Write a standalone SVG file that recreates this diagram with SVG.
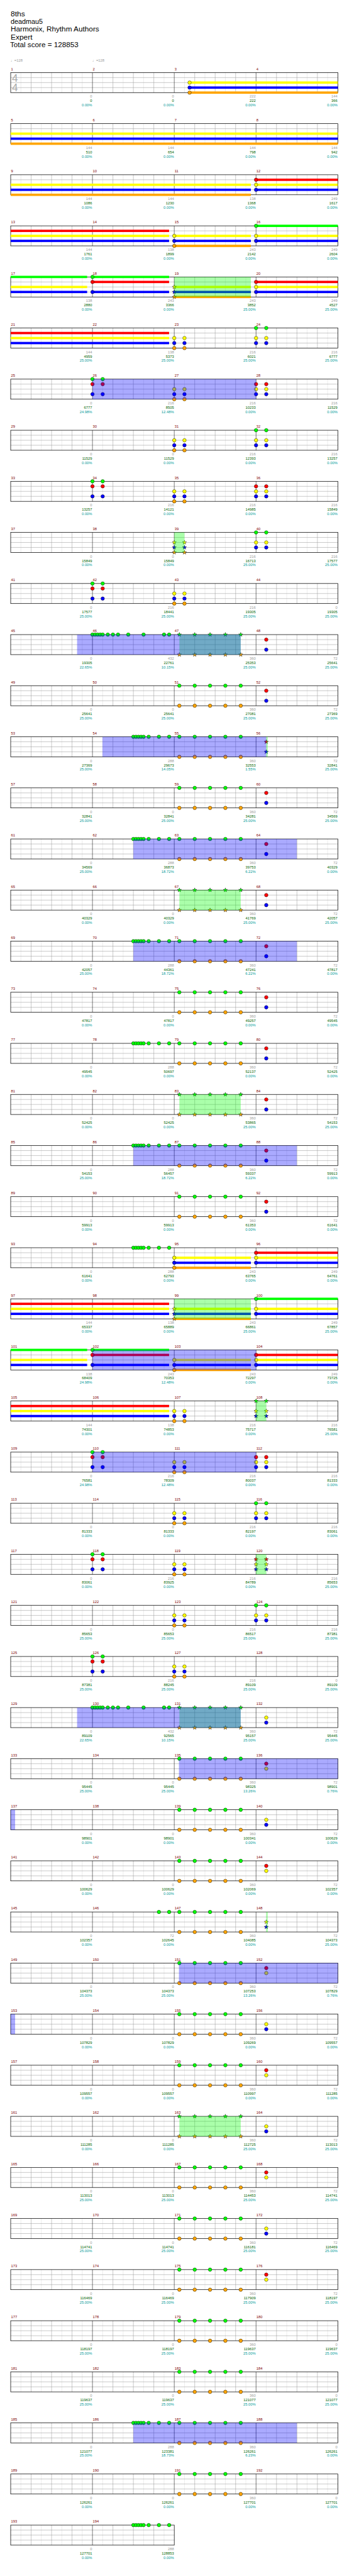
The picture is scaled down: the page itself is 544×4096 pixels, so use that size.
<svg xmlns="http://www.w3.org/2000/svg" width="544" height="4096" viewBox="0 0 544 4096">
<style>
.ti{font-size:20px;fill:#000}
.tp{font-size:11px;fill:#999}
.ts{font-size:32px;fill:#aaa}
.mn{font-size:11px;fill:#800000}
.sc{font-size:11px;fill:#999;text-anchor:end}
.cu{font-size:11px;fill:#006400;text-anchor:end}
.pc{font-size:11px;fill:#009999;text-anchor:end}
.sG{fill:#00ff00}.sR{fill:#ff0000}.sY{fill:#ffff00}.sB{fill:#0000ff}.sO{fill:#ffa500}
.sp{fill:#00ff00;fill-opacity:.333}
.ac{fill:#0000ff;fill-opacity:.333}
</style>
<defs>
<circle id="nt" r="5.3" stroke="#000" stroke-width="0.8"/>
<use id="G" href="#nt" fill="#00ff00"/>
<use id="R" href="#nt" fill="#ff0000"/>
<use id="Y" href="#nt" fill="#ffff00"/>
<use id="B" href="#nt" fill="#0000ff"/>
<use id="O" href="#nt" fill="#ffa500"/>
<path id="st" d="M0-6.5L1.53-2.1L6.18-2.01L2.47 0.8L3.82 5.26L0 2.6L-3.82 5.26L-2.47 0.8L-6.18-2.01L-1.53-2.1Z" stroke="#000" stroke-width="0.8"/>
<use id="SG" href="#st" fill="#00ff00"/>
<use id="SR" href="#st" fill="#ff0000"/>
<use id="SY" href="#st" fill="#ffff00"/>
<use id="SB" href="#st" fill="#0000ff"/>
<use id="SO" href="#st" fill="#ffa500"/>
<g id="grid4" fill="none">
<path stroke="#ddd" d="M62.6 0V60M123.9 0V60M185.1 0V60M246.4 0V60M307.6 0V60M368.9 0V60M430.1 0V60M491.4 0V60M552.6 0V60M613.9 0V60M675.1 0V60M736.4 0V60M797.6 0V60M858.9 0V60M920.1 0V60M981.4 0V60"/>
<path stroke="#999" d="M93.3 0V60M154.5 0V60M215.8 0V60M338.3 0V60M399.5 0V60M460.8 0V60M583.3 0V60M644.5 0V60M705.8 0V60M828.3 0V60M889.5 0V60M950.8 0V60M32 15H1012M32 30H1012M32 45H1012"/>
<path stroke="#000" d="M277 0V60M522 0V60M767 0V60"/>
<rect x="32" y="0" width="980" height="60" stroke="#000" stroke-width="1.4"/>
</g>
<g id="grid2" fill="none">
<path stroke="#ddd" d="M62.6 0V60M123.9 0V60M185.1 0V60M246.4 0V60M307.6 0V60M368.9 0V60M430.1 0V60M491.4 0V60"/>
<path stroke="#999" d="M93.3 0V60M154.5 0V60M215.8 0V60M338.3 0V60M399.5 0V60M460.8 0V60M32 15H522M32 30H522M32 45H522"/>
<path stroke="#000" d="M277 0V60"/>
<rect x="32" y="0" width="490" height="60" stroke="#000" stroke-width="1.4"/>
</g>
<g id="go5"><use href="#G" x="537.3"/><use href="#G" x="583.3"/><use href="#G" x="629.2"/><use href="#G" x="675.1"/><use href="#G" x="721.1"/><use href="#O" x="537.3" y="60"/><use href="#O" x="583.3" y="60"/><use href="#O" x="629.2" y="60"/><use href="#O" x="675.1" y="60"/><use href="#O" x="721.1" y="60"/></g>
<g id="go5s"><use href="#SG" x="537.3"/><use href="#SG" x="583.3"/><use href="#SG" x="629.2"/><use href="#SG" x="675.1"/><use href="#SG" x="721.1"/><use href="#SO" x="537.3" y="60"/><use href="#SO" x="583.3" y="60"/><use href="#SO" x="629.2" y="60"/><use href="#SO" x="675.1" y="60"/><use href="#SO" x="721.1" y="60"/></g>
<g id="runA"><use href="#G" x="399.5"/><use href="#G" x="407.2"/><use href="#G" x="414.8"/><use href="#G" x="422.5"/><use href="#G" x="430.1"/><use href="#G" x="445.4"/><use href="#G" x="476.1"/><use href="#G" x="506.7"/></g>
<g id="runB"><use href="#G" x="277"/><use href="#G" x="284.7"/><use href="#G" x="292.3"/><use href="#G" x="300"/><use href="#G" x="307.6"/><use href="#G" x="322.9"/><use href="#G" x="338.3"/><use href="#G" x="353.6"/><use href="#G" x="384.2"/><use href="#G" x="430.1"/><use href="#G" x="491.4"/><use href="#G" x="506.7"/></g>
<g id="grb2"><use href="#G" x="277"/><use href="#R" x="277" y="15"/><use href="#B" x="277" y="45"/><use href="#G" x="307.6"/><use href="#R" x="307.6" y="15"/><use href="#B" x="307.6" y="45"/></g>
<g id="ybo2"><use href="#Y" x="522" y="30"/><use href="#B" x="522" y="45"/><use href="#O" x="522" y="60"/><use href="#Y" x="552.6" y="30"/><use href="#B" x="552.6" y="45"/><use href="#O" x="552.6" y="60"/></g>
<g id="gyb2"><use href="#G" x="767"/><use href="#Y" x="767" y="30"/><use href="#B" x="767" y="45"/><use href="#G" x="797.6"/><use href="#Y" x="797.6" y="30"/><use href="#B" x="797.6" y="45"/></g>
<g id="ryb2"><use href="#R" x="767" y="15"/><use href="#Y" x="767" y="30"/><use href="#B" x="767" y="45"/><use href="#R" x="797.6" y="15"/><use href="#Y" x="797.6" y="30"/><use href="#B" x="797.6" y="45"/></g>
<g id="rb"><use href="#R" x="797.6" y="15"/><use href="#B" x="797.6" y="45"/></g>
<g id="yb"><use href="#Y" x="797.6" y="30"/><use href="#B" x="797.6" y="45"/></g>
<g id="ry"><use href="#R" x="797.6" y="15"/><use href="#Y" x="797.6" y="30"/></g>
</defs>
<rect width="544" height="4096" fill="#fff"/>
<g transform="scale(0.531)" font-family="Liberation Sans, Arial, sans-serif">
<g id="title">
<text class="ti" x="32" y="49" textLength="43" lengthAdjust="spacingAndGlyphs">8ths</text>
<text class="ti" x="32" y="72" textLength="96" lengthAdjust="spacingAndGlyphs">deadmau5</text>
<text class="ti" x="32" y="95" textLength="265" lengthAdjust="spacingAndGlyphs">Harmonix, Rhythm Authors</text>
<text class="ti" x="32" y="118" textLength="65" lengthAdjust="spacingAndGlyphs">Expert</text>
<text class="ti" x="30" y="141" textLength="205" lengthAdjust="spacingAndGlyphs">Total score = 128853</text>
</g>

<g id="row1" transform="translate(0,217.3)">
<use href="#grid4"/>
<text class="ts" x="36" y="27.7">4</text><text class="ts" x="36" y="56">4</text>
<text class="tp" x="32" y="-33">♩=128</text><text class="tp" x="277" y="-33">♩=128</text>
<rect class="sY" x="567.9" y="26.5" width="444.1" height="7"/><rect class="sB" x="567.9" y="41.5" width="444.1" height="7"/><rect class="sO" x="567.9" y="56.5" width="444.1" height="7"/>
<use href="#Y" x="567.9" y="30"/><use href="#B" x="567.9" y="45"/><use href="#O" x="567.9" y="60"/>
<text class="mn" y="-7"><tspan x="33">1</tspan><tspan x="278">2</tspan><tspan x="523">3</tspan><tspan x="768">4</tspan></text>
<text class="sc" y="75.5"><tspan x="276">0</tspan><tspan x="521">0</tspan><tspan x="766">222</tspan><tspan x="1011">144</tspan></text>
<text class="cu" y="88.5"><tspan x="276">0</tspan><tspan x="521">0</tspan><tspan x="766">222</tspan><tspan x="1011">366</tspan></text>
<text class="pc" y="101.5"><tspan x="276">0.00%</tspan><tspan x="521">0.00%</tspan><tspan x="766">0.00%</tspan><tspan x="1011">0.00%</tspan></text>
</g>

<g id="row2" transform="translate(0,370.3)">
<use href="#grid4"/>
<rect class="sY" x="32" y="26.5" width="980" height="7"/><rect class="sB" x="32" y="41.5" width="980" height="7"/><rect class="sO" x="32" y="56.5" width="980" height="7"/>
<text class="mn" y="-7"><tspan x="33">5</tspan><tspan x="278">6</tspan><tspan x="523">7</tspan><tspan x="768">8</tspan></text>
<text class="sc" y="75.5"><tspan x="276">144</tspan><tspan x="521">144</tspan><tspan x="766">144</tspan><tspan x="1011">144</tspan></text>
<text class="cu" y="88.5"><tspan x="276">510</tspan><tspan x="521">654</tspan><tspan x="766">798</tspan><tspan x="1011">942</tspan></text>
<text class="pc" y="101.5"><tspan x="276">0.00%</tspan><tspan x="521">0.00%</tspan><tspan x="766">0.00%</tspan><tspan x="1011">0.00%</tspan></text>
</g>

<g id="row3" transform="translate(0,523.3)">
<use href="#grid4"/>
<rect class="sY" x="32" y="26.5" width="719.5" height="7"/><rect class="sB" x="32" y="41.5" width="719.5" height="7"/><rect class="sO" x="32" y="56.5" width="719.5" height="7"/>
<rect class="sR" x="767" y="11.5" width="245" height="7"/><rect class="sY" x="767" y="26.5" width="245" height="7"/><rect class="sB" x="767" y="41.5" width="245" height="7"/>
<use href="#R" x="767" y="15"/><use href="#Y" x="767" y="30"/><use href="#B" x="767" y="45"/>
<text class="mn" y="-7"><tspan x="33">9</tspan><tspan x="278">10</tspan><tspan x="523">11</tspan><tspan x="768">12</tspan></text>
<text class="sc" y="75.5"><tspan x="276">144</tspan><tspan x="521">144</tspan><tspan x="766">138</tspan><tspan x="1011">249</tspan></text>
<text class="cu" y="88.5"><tspan x="276">1086</tspan><tspan x="521">1230</tspan><tspan x="766">1368</tspan><tspan x="1011">1617</tspan></text>
<text class="pc" y="101.5"><tspan x="276">0.00%</tspan><tspan x="521">0.00%</tspan><tspan x="766">0.00%</tspan><tspan x="1011">0.00%</tspan></text>
</g>

<g id="row4" transform="translate(0,676.3)">
<use href="#grid4"/>
<rect class="sR" x="32" y="11.5" width="474.5" height="7"/><rect class="sY" x="32" y="26.5" width="474.5" height="7"/><rect class="sB" x="32" y="41.5" width="474.5" height="7"/>
<rect class="sY" x="522" y="26.5" width="229.5" height="7"/><rect class="sB" x="522" y="41.5" width="229.5" height="7"/><rect class="sO" x="522" y="56.5" width="229.5" height="7"/>
<rect class="sG" x="767" y="-3.5" width="245" height="7"/><rect class="sY" x="767" y="26.5" width="245" height="7"/><rect class="sB" x="767" y="41.5" width="245" height="7"/>
<use href="#Y" x="522" y="30"/><use href="#B" x="522" y="45"/><use href="#O" x="522" y="60"/>
<use href="#G" x="767"/><use href="#Y" x="767" y="30"/><use href="#B" x="767" y="45"/>
<text class="mn" y="-7"><tspan x="33">13</tspan><tspan x="278">14</tspan><tspan x="523">15</tspan><tspan x="768">16</tspan></text>
<text class="sc" y="75.5"><tspan x="276">144</tspan><tspan x="521">138</tspan><tspan x="766">243</tspan><tspan x="1011">249</tspan></text>
<text class="cu" y="88.5"><tspan x="276">1761</tspan><tspan x="521">1899</tspan><tspan x="766">2142</tspan><tspan x="1011">2604</tspan></text>
<text class="pc" y="101.5"><tspan x="276">0.00%</tspan><tspan x="521">0.00%</tspan><tspan x="766">0.00%</tspan><tspan x="1011">0.00%</tspan></text>
</g>

<g id="row5" transform="translate(0,829.3)">
<use href="#grid4"/>
<rect class="sG" x="32" y="-3.5" width="229" height="7"/><rect class="sY" x="32" y="26.5" width="229" height="7"/><rect class="sB" x="32" y="41.5" width="229" height="7"/>
<rect class="sG" x="277" y="-3.5" width="229.5" height="7"/><rect class="sR" x="277" y="11.5" width="229.5" height="7"/><rect class="sB" x="277" y="41.5" width="229.5" height="7"/>
<rect class="sY" x="522" y="26.5" width="229.5" height="7"/><rect class="sB" x="522" y="41.5" width="229.5" height="7"/><rect class="sO" x="522" y="56.5" width="229.5" height="7"/>
<rect class="sR" x="767" y="11.5" width="245" height="7"/><rect class="sY" x="767" y="26.5" width="245" height="7"/><rect class="sB" x="767" y="41.5" width="245" height="7"/>
<use href="#G" x="277"/><use href="#R" x="277" y="15"/><use href="#B" x="277" y="45"/>
<use href="#SY" x="522" y="30"/><use href="#SB" x="522" y="45"/><use href="#SO" x="522" y="60"/>
<use href="#R" x="767" y="15"/><use href="#Y" x="767" y="30"/><use href="#B" x="767" y="45"/>
<rect class="sp" x="522" y="0" width="229.5" height="60"/>
<text class="mn" y="-7"><tspan x="33">17</tspan><tspan x="278">18</tspan><tspan x="523">19</tspan><tspan x="768">20</tspan></text>
<text class="sc" y="75.5"><tspan x="276">138</tspan><tspan x="521">243</tspan><tspan x="766">243</tspan><tspan x="1011">249</tspan></text>
<text class="cu" y="88.5"><tspan x="276">2880</tspan><tspan x="521">3366</tspan><tspan x="766">3852</tspan><tspan x="1011">4527</tspan></text>
<text class="pc" y="101.5"><tspan x="276">0.00%</tspan><tspan x="521">0.00%</tspan><tspan x="766">25.00%</tspan><tspan x="1011">25.00%</tspan></text>
</g>

<g id="row6" transform="translate(0,982.3)">
<use href="#grid4"/>
<rect class="sR" x="32" y="11.5" width="474.5" height="7"/><rect class="sY" x="32" y="26.5" width="474.5" height="7"/><rect class="sB" x="32" y="41.5" width="474.5" height="7"/>
<use href="#ybo2"/><use href="#gyb2"/>
<text class="mn" y="-7"><tspan x="33">21</tspan><tspan x="278">22</tspan><tspan x="523">23</tspan><tspan x="768">24</tspan></text>
<text class="sc" y="75.5"><tspan x="276">144</tspan><tspan x="521">138</tspan><tspan x="766">216</tspan><tspan x="1011">216</tspan></text>
<text class="cu" y="88.5"><tspan x="276">4959</tspan><tspan x="521">5373</tspan><tspan x="766">6021</tspan><tspan x="1011">6777</tspan></text>
<text class="pc" y="101.5"><tspan x="276">25.00%</tspan><tspan x="521">25.00%</tspan><tspan x="766">25.00%</tspan><tspan x="1011">25.00%</tspan></text>
</g>

<g id="row7" transform="translate(0,1135.3)">
<use href="#grid4"/>
<use href="#grb2"/><use href="#ybo2"/><use href="#ryb2"/>
<rect class="ac" x="277" y="0" width="490" height="60"/>
<text class="mn" y="-7"><tspan x="33">25</tspan><tspan x="278">26</tspan><tspan x="523">27</tspan><tspan x="768">28</tspan></text>
<text class="sc" y="75.5"><tspan x="276">0</tspan><tspan x="521">216</tspan><tspan x="766">216</tspan><tspan x="1011">216</tspan></text>
<text class="cu" y="88.5"><tspan x="276">6777</tspan><tspan x="521">8505</tspan><tspan x="766">10233</tspan><tspan x="1011">11529</tspan></text>
<text class="pc" y="101.5"><tspan x="276">24.98%</tspan><tspan x="521">12.48%</tspan><tspan x="766">0.00%</tspan><tspan x="1011">0.00%</tspan></text>
</g>

<g id="row8" transform="translate(0,1288.3)">
<use href="#grid4"/>
<use href="#ybo2"/><use href="#gyb2"/>
<text class="mn" y="-7"><tspan x="33">29</tspan><tspan x="278">30</tspan><tspan x="523">31</tspan><tspan x="768">32</tspan></text>
<text class="sc" y="75.5"><tspan x="276">0</tspan><tspan x="521">0</tspan><tspan x="766">216</tspan><tspan x="1011">216</tspan></text>
<text class="cu" y="88.5"><tspan x="276">11529</tspan><tspan x="521">11529</tspan><tspan x="766">12393</tspan><tspan x="1011">13257</tspan></text>
<text class="pc" y="101.5"><tspan x="276">0.00%</tspan><tspan x="521">0.00%</tspan><tspan x="766">0.00%</tspan><tspan x="1011">0.00%</tspan></text>
</g>

<g id="row9" transform="translate(0,1441.3)">
<use href="#grid4"/>
<use href="#grb2"/><use href="#ybo2"/><use href="#ryb2"/>
<text class="mn" y="-7"><tspan x="33">33</tspan><tspan x="278">34</tspan><tspan x="523">35</tspan><tspan x="768">36</tspan></text>
<text class="sc" y="75.5"><tspan x="276">0</tspan><tspan x="521">216</tspan><tspan x="766">216</tspan><tspan x="1011">216</tspan></text>
<text class="cu" y="88.5"><tspan x="276">13257</tspan><tspan x="521">14121</tspan><tspan x="766">14985</tspan><tspan x="1011">15849</tspan></text>
<text class="pc" y="101.5"><tspan x="276">0.00%</tspan><tspan x="521">0.00%</tspan><tspan x="766">0.00%</tspan><tspan x="1011">0.00%</tspan></text>
</g>

<g id="row10" transform="translate(0,1594.3)">
<use href="#grid4"/>
<use href="#SY" x="522" y="30"/><use href="#SB" x="522" y="45"/><use href="#SO" x="522" y="60"/><use href="#SY" x="552.6" y="30"/><use href="#SB" x="552.6" y="45"/><use href="#SO" x="552.6" y="60"/>
<use href="#gyb2"/>
<rect class="sp" x="522" y="0" width="30.6" height="60"/>
<text class="mn" y="-7"><tspan x="33">37</tspan><tspan x="278">38</tspan><tspan x="523">39</tspan><tspan x="768">40</tspan></text>
<text class="sc" y="75.5"><tspan x="276">0</tspan><tspan x="521">0</tspan><tspan x="766">216</tspan><tspan x="1011">216</tspan></text>
<text class="cu" y="88.5"><tspan x="276">15849</tspan><tspan x="521">15849</tspan><tspan x="766">16713</tspan><tspan x="1011">17577</tspan></text>
<text class="pc" y="101.5"><tspan x="276">0.00%</tspan><tspan x="521">0.00%</tspan><tspan x="766">25.00%</tspan><tspan x="1011">25.00%</tspan></text>
</g>

<g id="row11" transform="translate(0,1747.3)">
<use href="#grid4"/>
<use href="#grb2"/><use href="#ybo2"/>
<text class="mn" y="-7"><tspan x="33">41</tspan><tspan x="278">42</tspan><tspan x="523">43</tspan><tspan x="768">44</tspan></text>
<text class="sc" y="75.5"><tspan x="276">0</tspan><tspan x="521">216</tspan><tspan x="766">216</tspan><tspan x="1011">0</tspan></text>
<text class="cu" y="88.5"><tspan x="276">17577</tspan><tspan x="521">18441</tspan><tspan x="766">19305</tspan><tspan x="1011">19305</tspan></text>
<text class="pc" y="101.5"><tspan x="276">25.00%</tspan><tspan x="521">25.00%</tspan><tspan x="766">25.00%</tspan><tspan x="1011">25.00%</tspan></text>
</g>

<g id="row12" transform="translate(0,1900.3)">
<use href="#grid4"/>
<use href="#runB"/><use href="#go5s"/><use href="#rb"/>
<rect class="sp" x="537.3" y="0" width="183.8" height="60"/>
<rect class="ac" x="230.9" y="0" width="490.2" height="60"/>
<text class="mn" y="-7"><tspan x="33">45</tspan><tspan x="278">46</tspan><tspan x="523">47</tspan><tspan x="768">48</tspan></text>
<text class="sc" y="75.5"><tspan x="276">0</tspan><tspan x="521">432</tspan><tspan x="766">360</tspan><tspan x="1011">72</tspan></text>
<text class="cu" y="88.5"><tspan x="276">19305</tspan><tspan x="521">22761</tspan><tspan x="766">25353</tspan><tspan x="1011">25641</tspan></text>
<text class="pc" y="101.5"><tspan x="276">22.65%</tspan><tspan x="521">10.15%</tspan><tspan x="766">25.00%</tspan><tspan x="1011">25.00%</tspan></text>
</g>

<g id="row13" transform="translate(0,2053.3)">
<use href="#grid4"/>
<use href="#go5"/><use href="#rb"/>
<text class="mn" y="-7"><tspan x="33">49</tspan><tspan x="278">50</tspan><tspan x="523">51</tspan><tspan x="768">52</tspan></text>
<text class="sc" y="75.5"><tspan x="276">0</tspan><tspan x="521">0</tspan><tspan x="766">360</tspan><tspan x="1011">72</tspan></text>
<text class="cu" y="88.5"><tspan x="276">25641</tspan><tspan x="521">25641</tspan><tspan x="766">27081</tspan><tspan x="1011">27369</tspan></text>
<text class="pc" y="101.5"><tspan x="276">25.00%</tspan><tspan x="521">25.00%</tspan><tspan x="766">25.00%</tspan><tspan x="1011">25.00%</tspan></text>
</g>

<g id="row14" transform="translate(0,2206.3)">
<use href="#grid4"/>
<use href="#runA"/><use href="#go5"/><use href="#SR" x="797.6" y="15"/><use href="#SB" x="797.6" y="45"/>
<rect class="sp" x="797.6" y="0" width="4.4" height="60"/>
<rect class="ac" x="307" y="0" width="490.6" height="60"/>
<text class="mn" y="-7"><tspan x="33">53</tspan><tspan x="278">54</tspan><tspan x="523">55</tspan><tspan x="768">56</tspan></text>
<text class="sc" y="75.5"><tspan x="276">0</tspan><tspan x="521">288</tspan><tspan x="766">360</tspan><tspan x="1011">72</tspan></text>
<text class="cu" y="88.5"><tspan x="276">27369</tspan><tspan x="521">29673</tspan><tspan x="766">32553</tspan><tspan x="1011">32841</tspan></text>
<text class="pc" y="101.5"><tspan x="276">25.00%</tspan><tspan x="521">14.05%</tspan><tspan x="766">1.55%</tspan><tspan x="1011">25.00%</tspan></text>
</g>

<g id="row15" transform="translate(0,2359.3)">
<use href="#grid4"/>
<use href="#go5"/><use href="#rb"/>
<text class="mn" y="-7"><tspan x="33">57</tspan><tspan x="278">58</tspan><tspan x="523">59</tspan><tspan x="768">60</tspan></text>
<text class="sc" y="75.5"><tspan x="276">0</tspan><tspan x="521">0</tspan><tspan x="766">360</tspan><tspan x="1011">72</tspan></text>
<text class="cu" y="88.5"><tspan x="276">32841</tspan><tspan x="521">32841</tspan><tspan x="766">34281</tspan><tspan x="1011">34569</tspan></text>
<text class="pc" y="101.5"><tspan x="276">25.00%</tspan><tspan x="521">25.00%</tspan><tspan x="766">25.00%</tspan><tspan x="1011">25.00%</tspan></text>
</g>

<g id="row16" transform="translate(0,2512.3)">
<use href="#grid4"/>
<use href="#runA"/><use href="#go5"/><use href="#rb"/>
<rect class="ac" x="399.5" y="0" width="489.5" height="60"/>
<text class="mn" y="-7"><tspan x="33">61</tspan><tspan x="278">62</tspan><tspan x="523">63</tspan><tspan x="768">64</tspan></text>
<text class="sc" y="75.5"><tspan x="276">0</tspan><tspan x="521">288</tspan><tspan x="766">360</tspan><tspan x="1011">72</tspan></text>
<text class="cu" y="88.5"><tspan x="276">34569</tspan><tspan x="521">36873</tspan><tspan x="766">39753</tspan><tspan x="1011">40329</tspan></text>
<text class="pc" y="101.5"><tspan x="276">25.00%</tspan><tspan x="521">18.72%</tspan><tspan x="766">6.22%</tspan><tspan x="1011">0.00%</tspan></text>
</g>

<g id="row17" transform="translate(0,2665.3)">
<use href="#grid4"/>
<use href="#go5s"/><use href="#rb"/>
<rect class="sp" x="537.3" y="0" width="183.8" height="60"/>
<text class="mn" y="-7"><tspan x="33">65</tspan><tspan x="278">66</tspan><tspan x="523">67</tspan><tspan x="768">68</tspan></text>
<text class="sc" y="75.5"><tspan x="276">0</tspan><tspan x="521">0</tspan><tspan x="766">360</tspan><tspan x="1011">72</tspan></text>
<text class="cu" y="88.5"><tspan x="276">40329</tspan><tspan x="521">40329</tspan><tspan x="766">41769</tspan><tspan x="1011">42057</tspan></text>
<text class="pc" y="101.5"><tspan x="276">0.00%</tspan><tspan x="521">0.00%</tspan><tspan x="766">25.00%</tspan><tspan x="1011">25.00%</tspan></text>
</g>

<g id="row18" transform="translate(0,2818.3)">
<use href="#grid4"/>
<use href="#runA"/><use href="#go5"/><use href="#rb"/>
<rect class="ac" x="399.5" y="0" width="489.5" height="60"/>
<text class="mn" y="-7"><tspan x="33">69</tspan><tspan x="278">70</tspan><tspan x="523">71</tspan><tspan x="768">72</tspan></text>
<text class="sc" y="75.5"><tspan x="276">0</tspan><tspan x="521">288</tspan><tspan x="766">360</tspan><tspan x="1011">72</tspan></text>
<text class="cu" y="88.5"><tspan x="276">42057</tspan><tspan x="521">44361</tspan><tspan x="766">47241</tspan><tspan x="1011">47817</tspan></text>
<text class="pc" y="101.5"><tspan x="276">25.00%</tspan><tspan x="521">18.72%</tspan><tspan x="766">6.22%</tspan><tspan x="1011">0.00%</tspan></text>
</g>

<g id="row19" transform="translate(0,2971.3)">
<use href="#grid4"/>
<use href="#go5"/><use href="#rb"/>
<text class="mn" y="-7"><tspan x="33">73</tspan><tspan x="278">74</tspan><tspan x="523">75</tspan><tspan x="768">76</tspan></text>
<text class="sc" y="75.5"><tspan x="276">0</tspan><tspan x="521">0</tspan><tspan x="766">360</tspan><tspan x="1011">72</tspan></text>
<text class="cu" y="88.5"><tspan x="276">47817</tspan><tspan x="521">47817</tspan><tspan x="766">49257</tspan><tspan x="1011">49545</tspan></text>
<text class="pc" y="101.5"><tspan x="276">0.00%</tspan><tspan x="521">0.00%</tspan><tspan x="766">0.00%</tspan><tspan x="1011">0.00%</tspan></text>
</g>

<g id="row20" transform="translate(0,3124.3)">
<use href="#grid4"/>
<use href="#runA"/><use href="#go5"/><use href="#rb"/>
<text class="mn" y="-7"><tspan x="33">77</tspan><tspan x="278">78</tspan><tspan x="523">79</tspan><tspan x="768">80</tspan></text>
<text class="sc" y="75.5"><tspan x="276">0</tspan><tspan x="521">288</tspan><tspan x="766">360</tspan><tspan x="1011">72</tspan></text>
<text class="cu" y="88.5"><tspan x="276">49545</tspan><tspan x="521">50697</tspan><tspan x="766">52137</tspan><tspan x="1011">52425</tspan></text>
<text class="pc" y="101.5"><tspan x="276">0.00%</tspan><tspan x="521">0.00%</tspan><tspan x="766">0.00%</tspan><tspan x="1011">0.00%</tspan></text>
</g>

<g id="row21" transform="translate(0,3277.3)">
<use href="#grid4"/>
<use href="#go5s"/><use href="#rb"/>
<rect class="sp" x="537.3" y="0" width="183.8" height="60"/>
<text class="mn" y="-7"><tspan x="33">81</tspan><tspan x="278">82</tspan><tspan x="523">83</tspan><tspan x="768">84</tspan></text>
<text class="sc" y="75.5"><tspan x="276">0</tspan><tspan x="521">0</tspan><tspan x="766">360</tspan><tspan x="1011">72</tspan></text>
<text class="cu" y="88.5"><tspan x="276">52425</tspan><tspan x="521">52425</tspan><tspan x="766">53865</tspan><tspan x="1011">54153</tspan></text>
<text class="pc" y="101.5"><tspan x="276">0.00%</tspan><tspan x="521">0.00%</tspan><tspan x="766">25.00%</tspan><tspan x="1011">25.00%</tspan></text>
</g>

<g id="row22" transform="translate(0,3430.3)">
<use href="#grid4"/>
<use href="#runA"/><use href="#go5"/><use href="#rb"/>
<rect class="ac" x="399.5" y="0" width="489.5" height="60"/>
<text class="mn" y="-7"><tspan x="33">85</tspan><tspan x="278">86</tspan><tspan x="523">87</tspan><tspan x="768">88</tspan></text>
<text class="sc" y="75.5"><tspan x="276">0</tspan><tspan x="521">288</tspan><tspan x="766">360</tspan><tspan x="1011">72</tspan></text>
<text class="cu" y="88.5"><tspan x="276">54153</tspan><tspan x="521">56457</tspan><tspan x="766">59337</tspan><tspan x="1011">59913</tspan></text>
<text class="pc" y="101.5"><tspan x="276">25.00%</tspan><tspan x="521">18.72%</tspan><tspan x="766">6.22%</tspan><tspan x="1011">0.00%</tspan></text>
</g>

<g id="row23" transform="translate(0,3583.3)">
<use href="#grid4"/>
<use href="#go5"/><use href="#rb"/>
<text class="mn" y="-7"><tspan x="33">89</tspan><tspan x="278">90</tspan><tspan x="523">91</tspan><tspan x="768">92</tspan></text>
<text class="sc" y="75.5"><tspan x="276">0</tspan><tspan x="521">0</tspan><tspan x="766">360</tspan><tspan x="1011">72</tspan></text>
<text class="cu" y="88.5"><tspan x="276">59913</tspan><tspan x="521">59913</tspan><tspan x="766">61353</tspan><tspan x="1011">61641</tspan></text>
<text class="pc" y="101.5"><tspan x="276">0.00%</tspan><tspan x="521">0.00%</tspan><tspan x="766">0.00%</tspan><tspan x="1011">0.00%</tspan></text>
</g>

<g id="row24" transform="translate(0,3736.3)">
<use href="#grid4"/>
<rect class="sY" x="522" y="26.5" width="229.5" height="7"/><rect class="sB" x="522" y="41.5" width="229.5" height="7"/><rect class="sO" x="522" y="56.5" width="229.5" height="7"/>
<rect class="sR" x="767" y="11.5" width="245" height="7"/><rect class="sY" x="767" y="26.5" width="245" height="7"/><rect class="sB" x="767" y="41.5" width="245" height="7"/>
<use href="#runA"/>
<use href="#Y" x="522" y="30"/><use href="#B" x="522" y="45"/><use href="#O" x="522" y="60"/>
<use href="#R" x="767" y="15"/><use href="#Y" x="767" y="30"/><use href="#B" x="767" y="45"/>
<text class="mn" y="-7"><tspan x="33">93</tspan><tspan x="278">94</tspan><tspan x="523">95</tspan><tspan x="768">96</tspan></text>
<text class="sc" y="75.5"><tspan x="276">0</tspan><tspan x="521">288</tspan><tspan x="766">243</tspan><tspan x="1011">249</tspan></text>
<text class="cu" y="88.5"><tspan x="276">61641</tspan><tspan x="521">62793</tspan><tspan x="766">63765</tspan><tspan x="1011">64761</tspan></text>
<text class="pc" y="101.5"><tspan x="276">0.00%</tspan><tspan x="521">0.00%</tspan><tspan x="766">0.00%</tspan><tspan x="1011">0.00%</tspan></text>
</g>

<g id="row25" transform="translate(0,3889.3)">
<use href="#grid4"/>
<rect class="sR" x="32" y="11.5" width="474.5" height="7"/><rect class="sY" x="32" y="26.5" width="474.5" height="7"/><rect class="sB" x="32" y="41.5" width="474.5" height="7"/>
<rect class="sY" x="522" y="26.5" width="229.5" height="7"/><rect class="sB" x="522" y="41.5" width="229.5" height="7"/><rect class="sO" x="522" y="56.5" width="229.5" height="7"/>
<rect class="sG" x="767" y="-3.5" width="245" height="7"/><rect class="sY" x="767" y="26.5" width="245" height="7"/><rect class="sB" x="767" y="41.5" width="245" height="7"/>
<use href="#SY" x="522" y="30"/><use href="#SB" x="522" y="45"/><use href="#SO" x="522" y="60"/>
<use href="#G" x="767"/><use href="#Y" x="767" y="30"/><use href="#B" x="767" y="45"/>
<rect class="sp" x="522" y="0" width="229.5" height="60"/>
<text class="mn" y="-7"><tspan x="33">97</tspan><tspan x="278">98</tspan><tspan x="523">99</tspan><tspan x="768">100</tspan></text>
<text class="sc" y="75.5"><tspan x="276">144</tspan><tspan x="521">138</tspan><tspan x="766">243</tspan><tspan x="1011">249</tspan></text>
<text class="cu" y="88.5"><tspan x="276">65337</tspan><tspan x="521">65889</tspan><tspan x="766">66861</tspan><tspan x="1011">67857</tspan></text>
<text class="pc" y="101.5"><tspan x="276">0.00%</tspan><tspan x="521">0.00%</tspan><tspan x="766">25.00%</tspan><tspan x="1011">25.00%</tspan></text>
</g>

<g id="row26" transform="translate(0,4042.3)">
<use href="#grid4"/>
<rect class="sG" x="32" y="-3.5" width="229" height="7"/><rect class="sY" x="32" y="26.5" width="229" height="7"/><rect class="sB" x="32" y="41.5" width="229" height="7"/>
<rect class="sG" x="277" y="-3.5" width="229.5" height="7"/><rect class="sR" x="277" y="11.5" width="229.5" height="7"/><rect class="sB" x="277" y="41.5" width="229.5" height="7"/>
<rect class="sY" x="522" y="26.5" width="229.5" height="7"/><rect class="sB" x="522" y="41.5" width="229.5" height="7"/><rect class="sO" x="522" y="56.5" width="229.5" height="7"/>
<rect class="sR" x="767" y="11.5" width="245" height="7"/><rect class="sY" x="767" y="26.5" width="245" height="7"/><rect class="sB" x="767" y="41.5" width="245" height="7"/>
<use href="#G" x="277"/><use href="#R" x="277" y="15"/><use href="#B" x="277" y="45"/>
<use href="#Y" x="522" y="30"/><use href="#B" x="522" y="45"/><use href="#O" x="522" y="60"/>
<use href="#R" x="767" y="15"/><use href="#Y" x="767" y="30"/><use href="#B" x="767" y="45"/>
<rect class="ac" x="277" y="0" width="490" height="60"/>
<text class="mn" y="-7"><tspan x="33">101</tspan><tspan x="278">102</tspan><tspan x="523">103</tspan><tspan x="768">104</tspan></text>
<text class="sc" y="75.5"><tspan x="276">138</tspan><tspan x="521">243</tspan><tspan x="766">243</tspan><tspan x="1011">249</tspan></text>
<text class="cu" y="88.5"><tspan x="276">68409</tspan><tspan x="521">70353</tspan><tspan x="766">72297</tspan><tspan x="1011">73725</tspan></text>
<text class="pc" y="101.5"><tspan x="276">24.98%</tspan><tspan x="521">12.48%</tspan><tspan x="766">0.00%</tspan><tspan x="1011">0.00%</tspan></text>
</g>

<g id="row27" transform="translate(0,4195.3)">
<use href="#grid4"/>
<rect class="sR" x="32" y="11.5" width="474.5" height="7"/><rect class="sY" x="32" y="26.5" width="474.5" height="7"/><rect class="sB" x="32" y="41.5" width="474.5" height="7"/>
<use href="#ybo2"/>
<use href="#SG" x="767"/><use href="#SY" x="767" y="30"/><use href="#SB" x="767" y="45"/><use href="#SG" x="797.6"/><use href="#SY" x="797.6" y="30"/><use href="#SB" x="797.6" y="45"/>
<rect class="sp" x="767" y="0" width="30.6" height="60"/>
<text class="mn" y="-7"><tspan x="33">105</tspan><tspan x="278">106</tspan><tspan x="523">107</tspan><tspan x="768">108</tspan></text>
<text class="sc" y="75.5"><tspan x="276">144</tspan><tspan x="521">138</tspan><tspan x="766">216</tspan><tspan x="1011">216</tspan></text>
<text class="cu" y="88.5"><tspan x="276">74301</tspan><tspan x="521">74853</tspan><tspan x="766">75717</tspan><tspan x="1011">76581</tspan></text>
<text class="pc" y="101.5"><tspan x="276">0.00%</tspan><tspan x="521">0.00%</tspan><tspan x="766">0.00%</tspan><tspan x="1011">25.00%</tspan></text>
</g>

<g id="row28" transform="translate(0,4348.3)">
<use href="#grid4"/>
<use href="#grb2"/><use href="#ybo2"/><use href="#ryb2"/>
<rect class="ac" x="277" y="0" width="490" height="60"/>
<text class="mn" y="-7"><tspan x="33">109</tspan><tspan x="278">110</tspan><tspan x="523">111</tspan><tspan x="768">112</tspan></text>
<text class="sc" y="75.5"><tspan x="276">0</tspan><tspan x="521">216</tspan><tspan x="766">216</tspan><tspan x="1011">216</tspan></text>
<text class="cu" y="88.5"><tspan x="276">76581</tspan><tspan x="521">78309</tspan><tspan x="766">80037</tspan><tspan x="1011">81333</tspan></text>
<text class="pc" y="101.5"><tspan x="276">24.98%</tspan><tspan x="521">12.48%</tspan><tspan x="766">0.00%</tspan><tspan x="1011">0.00%</tspan></text>
</g>

<g id="row29" transform="translate(0,4501.3)">
<use href="#grid4"/>
<use href="#ybo2"/><use href="#gyb2"/>
<text class="mn" y="-7"><tspan x="33">113</tspan><tspan x="278">114</tspan><tspan x="523">115</tspan><tspan x="768">116</tspan></text>
<text class="sc" y="75.5"><tspan x="276">0</tspan><tspan x="521">0</tspan><tspan x="766">216</tspan><tspan x="1011">216</tspan></text>
<text class="cu" y="88.5"><tspan x="276">81333</tspan><tspan x="521">81333</tspan><tspan x="766">82197</tspan><tspan x="1011">83061</tspan></text>
<text class="pc" y="101.5"><tspan x="276">0.00%</tspan><tspan x="521">0.00%</tspan><tspan x="766">0.00%</tspan><tspan x="1011">0.00%</tspan></text>
</g>

<g id="row30" transform="translate(0,4654.3)">
<use href="#grid4"/>
<use href="#grb2"/><use href="#ybo2"/>
<use href="#SR" x="767" y="15"/><use href="#SY" x="767" y="30"/><use href="#SB" x="767" y="45"/><use href="#SR" x="797.6" y="15"/><use href="#SY" x="797.6" y="30"/><use href="#SB" x="797.6" y="45"/>
<rect class="sp" x="767" y="0" width="30.6" height="60"/>
<text class="mn" y="-7"><tspan x="33">117</tspan><tspan x="278">118</tspan><tspan x="523">119</tspan><tspan x="768">120</tspan></text>
<text class="sc" y="75.5"><tspan x="276">0</tspan><tspan x="521">216</tspan><tspan x="766">216</tspan><tspan x="1011">216</tspan></text>
<text class="cu" y="88.5"><tspan x="276">83061</tspan><tspan x="521">83925</tspan><tspan x="766">84789</tspan><tspan x="1011">85653</tspan></text>
<text class="pc" y="101.5"><tspan x="276">0.00%</tspan><tspan x="521">0.00%</tspan><tspan x="766">0.00%</tspan><tspan x="1011">25.00%</tspan></text>
</g>

<g id="row31" transform="translate(0,4807.3)">
<use href="#grid4"/>
<use href="#ybo2"/><use href="#gyb2"/>
<text class="mn" y="-7"><tspan x="33">121</tspan><tspan x="278">122</tspan><tspan x="523">123</tspan><tspan x="768">124</tspan></text>
<text class="sc" y="75.5"><tspan x="276">0</tspan><tspan x="521">0</tspan><tspan x="766">216</tspan><tspan x="1011">216</tspan></text>
<text class="cu" y="88.5"><tspan x="276">85653</tspan><tspan x="521">85653</tspan><tspan x="766">86517</tspan><tspan x="1011">87381</tspan></text>
<text class="pc" y="101.5"><tspan x="276">25.00%</tspan><tspan x="521">25.00%</tspan><tspan x="766">25.00%</tspan><tspan x="1011">25.00%</tspan></text>
</g>

<g id="row32" transform="translate(0,4960.3)">
<use href="#grid4"/>
<use href="#grb2"/><use href="#ybo2"/>
<text class="mn" y="-7"><tspan x="33">125</tspan><tspan x="278">126</tspan><tspan x="523">127</tspan><tspan x="768">128</tspan></text>
<text class="sc" y="75.5"><tspan x="276">0</tspan><tspan x="521">216</tspan><tspan x="766">216</tspan><tspan x="1011">0</tspan></text>
<text class="cu" y="88.5"><tspan x="276">87381</tspan><tspan x="521">88245</tspan><tspan x="766">89109</tspan><tspan x="1011">89109</tspan></text>
<text class="pc" y="101.5"><tspan x="276">25.00%</tspan><tspan x="521">25.00%</tspan><tspan x="766">25.00%</tspan><tspan x="1011">25.00%</tspan></text>
</g>

<g id="row33" transform="translate(0,5113.3)">
<use href="#grid4"/>
<use href="#runB"/><use href="#go5s"/><use href="#yb"/>
<rect class="sp" x="537.3" y="0" width="183.8" height="60"/>
<rect class="ac" x="230.9" y="0" width="490.2" height="60"/>
<text class="mn" y="-7"><tspan x="33">129</tspan><tspan x="278">130</tspan><tspan x="523">131</tspan><tspan x="768">132</tspan></text>
<text class="sc" y="75.5"><tspan x="276">0</tspan><tspan x="521">432</tspan><tspan x="766">360</tspan><tspan x="1011">72</tspan></text>
<text class="cu" y="88.5"><tspan x="276">89109</tspan><tspan x="521">92565</tspan><tspan x="766">95157</tspan><tspan x="1011">95445</tspan></text>
<text class="pc" y="101.5"><tspan x="276">22.65%</tspan><tspan x="521">10.15%</tspan><tspan x="766">25.00%</tspan><tspan x="1011">25.00%</tspan></text>
</g>

<g id="row34" transform="translate(0,5266.3)">
<use href="#grid4"/>
<use href="#go5"/><use href="#ry"/>
<rect class="ac" x="536" y="0" width="476" height="60"/>
<text class="mn" y="-7"><tspan x="33">133</tspan><tspan x="278">134</tspan><tspan x="523">135</tspan><tspan x="768">136</tspan></text>
<text class="sc" y="75.5"><tspan x="276">0</tspan><tspan x="521">0</tspan><tspan x="766">360</tspan><tspan x="1011">72</tspan></text>
<text class="cu" y="88.5"><tspan x="276">95445</tspan><tspan x="521">95445</tspan><tspan x="766">98325</tspan><tspan x="1011">98901</tspan></text>
<text class="pc" y="101.5"><tspan x="276">25.00%</tspan><tspan x="521">25.00%</tspan><tspan x="766">13.26%</tspan><tspan x="1011">0.76%</tspan></text>
</g>

<g id="row35" transform="translate(0,5419.3)">
<use href="#grid4"/>
<use href="#go5"/><use href="#yb"/>
<rect class="ac" x="32" y="0" width="13.3" height="60"/>
<text class="mn" y="-7"><tspan x="33">137</tspan><tspan x="278">138</tspan><tspan x="523">139</tspan><tspan x="768">140</tspan></text>
<text class="sc" y="75.5"><tspan x="276">0</tspan><tspan x="521">0</tspan><tspan x="766">360</tspan><tspan x="1011">72</tspan></text>
<text class="cu" y="88.5"><tspan x="276">98901</tspan><tspan x="521">98901</tspan><tspan x="766">100341</tspan><tspan x="1011">100629</tspan></text>
<text class="pc" y="101.5"><tspan x="276">0.00%</tspan><tspan x="521">0.00%</tspan><tspan x="766">0.00%</tspan><tspan x="1011">0.00%</tspan></text>
</g>

<g id="row36" transform="translate(0,5572.3)">
<use href="#grid4"/>
<use href="#go5"/><use href="#ry"/>
<text class="mn" y="-7"><tspan x="33">141</tspan><tspan x="278">142</tspan><tspan x="523">143</tspan><tspan x="768">144</tspan></text>
<text class="sc" y="75.5"><tspan x="276">0</tspan><tspan x="521">0</tspan><tspan x="766">360</tspan><tspan x="1011">72</tspan></text>
<text class="cu" y="88.5"><tspan x="276">100629</tspan><tspan x="521">100629</tspan><tspan x="766">102069</tspan><tspan x="1011">102357</tspan></text>
<text class="pc" y="101.5"><tspan x="276">0.00%</tspan><tspan x="521">0.00%</tspan><tspan x="766">0.00%</tspan><tspan x="1011">0.00%</tspan></text>
</g>

<g id="row37" transform="translate(0,5725.3)">
<use href="#grid4"/>
<use href="#G" x="476.1"/><use href="#G" x="506.7"/><use href="#go5"/><use href="#SY" x="797.6" y="30"/><use href="#SB" x="797.6" y="45"/>
<rect class="sp" x="797.6" y="0" width="4.4" height="60"/>
<text class="mn" y="-7"><tspan x="33">145</tspan><tspan x="278">146</tspan><tspan x="523">147</tspan><tspan x="768">148</tspan></text>
<text class="sc" y="75.5"><tspan x="276">0</tspan><tspan x="521">72</tspan><tspan x="766">360</tspan><tspan x="1011">72</tspan></text>
<text class="cu" y="88.5"><tspan x="276">102357</tspan><tspan x="521">102645</tspan><tspan x="766">104085</tspan><tspan x="1011">104373</tspan></text>
<text class="pc" y="101.5"><tspan x="276">0.00%</tspan><tspan x="521">0.00%</tspan><tspan x="766">0.00%</tspan><tspan x="1011">25.00%</tspan></text>
</g>

<g id="row38" transform="translate(0,5878.3)">
<use href="#grid4"/>
<use href="#go5"/><use href="#ry"/>
<rect class="ac" x="536" y="0" width="476" height="60"/>
<text class="mn" y="-7"><tspan x="33">149</tspan><tspan x="278">150</tspan><tspan x="523">151</tspan><tspan x="768">152</tspan></text>
<text class="sc" y="75.5"><tspan x="276">0</tspan><tspan x="521">0</tspan><tspan x="766">360</tspan><tspan x="1011">72</tspan></text>
<text class="cu" y="88.5"><tspan x="276">104373</tspan><tspan x="521">104373</tspan><tspan x="766">107253</tspan><tspan x="1011">107829</tspan></text>
<text class="pc" y="101.5"><tspan x="276">25.00%</tspan><tspan x="521">25.00%</tspan><tspan x="766">13.26%</tspan><tspan x="1011">0.76%</tspan></text>
</g>

<g id="row39" transform="translate(0,6031.3)">
<use href="#grid4"/>
<use href="#go5"/><use href="#yb"/>
<rect class="ac" x="32" y="0" width="13.3" height="60"/>
<text class="mn" y="-7"><tspan x="33">153</tspan><tspan x="278">154</tspan><tspan x="523">155</tspan><tspan x="768">156</tspan></text>
<text class="sc" y="75.5"><tspan x="276">0</tspan><tspan x="521">0</tspan><tspan x="766">360</tspan><tspan x="1011">72</tspan></text>
<text class="cu" y="88.5"><tspan x="276">107829</tspan><tspan x="521">107829</tspan><tspan x="766">109269</tspan><tspan x="1011">109557</tspan></text>
<text class="pc" y="101.5"><tspan x="276">0.00%</tspan><tspan x="521">0.00%</tspan><tspan x="766">0.00%</tspan><tspan x="1011">0.00%</tspan></text>
</g>

<g id="row40" transform="translate(0,6184.3)">
<use href="#grid4"/>
<use href="#go5"/><use href="#ry"/>
<text class="mn" y="-7"><tspan x="33">157</tspan><tspan x="278">158</tspan><tspan x="523">159</tspan><tspan x="768">160</tspan></text>
<text class="sc" y="75.5"><tspan x="276">0</tspan><tspan x="521">0</tspan><tspan x="766">360</tspan><tspan x="1011">72</tspan></text>
<text class="cu" y="88.5"><tspan x="276">109557</tspan><tspan x="521">109557</tspan><tspan x="766">110997</tspan><tspan x="1011">111285</tspan></text>
<text class="pc" y="101.5"><tspan x="276">0.00%</tspan><tspan x="521">0.00%</tspan><tspan x="766">0.00%</tspan><tspan x="1011">0.00%</tspan></text>
</g>

<g id="row41" transform="translate(0,6337.3)">
<use href="#grid4"/>
<use href="#go5s"/><use href="#yb"/>
<rect class="sp" x="537.3" y="0" width="183.8" height="60"/>
<text class="mn" y="-7"><tspan x="33">161</tspan><tspan x="278">162</tspan><tspan x="523">163</tspan><tspan x="768">164</tspan></text>
<text class="sc" y="75.5"><tspan x="276">0</tspan><tspan x="521">0</tspan><tspan x="766">360</tspan><tspan x="1011">72</tspan></text>
<text class="cu" y="88.5"><tspan x="276">111285</tspan><tspan x="521">111285</tspan><tspan x="766">112725</tspan><tspan x="1011">113013</tspan></text>
<text class="pc" y="101.5"><tspan x="276">0.00%</tspan><tspan x="521">0.00%</tspan><tspan x="766">25.00%</tspan><tspan x="1011">25.00%</tspan></text>
</g>

<g id="row42" transform="translate(0,6490.3)">
<use href="#grid4"/>
<use href="#go5"/><use href="#ry"/>
<text class="mn" y="-7"><tspan x="33">165</tspan><tspan x="278">166</tspan><tspan x="523">167</tspan><tspan x="768">168</tspan></text>
<text class="sc" y="75.5"><tspan x="276">0</tspan><tspan x="521">0</tspan><tspan x="766">360</tspan><tspan x="1011">72</tspan></text>
<text class="cu" y="88.5"><tspan x="276">113013</tspan><tspan x="521">113013</tspan><tspan x="766">114453</tspan><tspan x="1011">114741</tspan></text>
<text class="pc" y="101.5"><tspan x="276">25.00%</tspan><tspan x="521">25.00%</tspan><tspan x="766">25.00%</tspan><tspan x="1011">25.00%</tspan></text>
</g>

<g id="row43" transform="translate(0,6643.3)">
<use href="#grid4"/>
<use href="#go5"/><use href="#yb"/>
<text class="mn" y="-7"><tspan x="33">169</tspan><tspan x="278">170</tspan><tspan x="523">171</tspan><tspan x="768">172</tspan></text>
<text class="sc" y="75.5"><tspan x="276">0</tspan><tspan x="521">0</tspan><tspan x="766">360</tspan><tspan x="1011">72</tspan></text>
<text class="cu" y="88.5"><tspan x="276">114741</tspan><tspan x="521">114741</tspan><tspan x="766">116181</tspan><tspan x="1011">116469</tspan></text>
<text class="pc" y="101.5"><tspan x="276">25.00%</tspan><tspan x="521">25.00%</tspan><tspan x="766">25.00%</tspan><tspan x="1011">25.00%</tspan></text>
</g>

<g id="row44" transform="translate(0,6796.3)">
<use href="#grid4"/>
<use href="#go5"/><use href="#ry"/>
<text class="mn" y="-7"><tspan x="33">173</tspan><tspan x="278">174</tspan><tspan x="523">175</tspan><tspan x="768">176</tspan></text>
<text class="sc" y="75.5"><tspan x="276">0</tspan><tspan x="521">0</tspan><tspan x="766">360</tspan><tspan x="1011">72</tspan></text>
<text class="cu" y="88.5"><tspan x="276">116469</tspan><tspan x="521">116469</tspan><tspan x="766">117909</tspan><tspan x="1011">118197</tspan></text>
<text class="pc" y="101.5"><tspan x="276">25.00%</tspan><tspan x="521">25.00%</tspan><tspan x="766">25.00%</tspan><tspan x="1011">25.00%</tspan></text>
</g>

<g id="row45" transform="translate(0,6949.3)">
<use href="#grid4"/>
<use href="#go5"/>
<text class="mn" y="-7"><tspan x="33">177</tspan><tspan x="278">178</tspan><tspan x="523">179</tspan><tspan x="768">180</tspan></text>
<text class="sc" y="75.5"><tspan x="276">0</tspan><tspan x="521">0</tspan><tspan x="766">360</tspan><tspan x="1011">0</tspan></text>
<text class="cu" y="88.5"><tspan x="276">118197</tspan><tspan x="521">118197</tspan><tspan x="766">119637</tspan><tspan x="1011">119637</tspan></text>
<text class="pc" y="101.5"><tspan x="276">25.00%</tspan><tspan x="521">25.00%</tspan><tspan x="766">25.00%</tspan><tspan x="1011">25.00%</tspan></text>
</g>

<g id="row46" transform="translate(0,7102.3)">
<use href="#grid4"/>
<use href="#go5"/>
<text class="mn" y="-7"><tspan x="33">181</tspan><tspan x="278">182</tspan><tspan x="523">183</tspan><tspan x="768">184</tspan></text>
<text class="sc" y="75.5"><tspan x="276">0</tspan><tspan x="521">0</tspan><tspan x="766">360</tspan><tspan x="1011">0</tspan></text>
<text class="cu" y="88.5"><tspan x="276">119637</tspan><tspan x="521">119637</tspan><tspan x="766">121077</tspan><tspan x="1011">121077</tspan></text>
<text class="pc" y="101.5"><tspan x="276">25.00%</tspan><tspan x="521">25.00%</tspan><tspan x="766">25.00%</tspan><tspan x="1011">25.00%</tspan></text>
</g>

<g id="row47" transform="translate(0,7255.3)">
<use href="#grid4"/>
<use href="#runA"/><use href="#go5"/>
<rect class="ac" x="399.5" y="0" width="489.5" height="60"/>
<text class="mn" y="-7"><tspan x="33">185</tspan><tspan x="278">186</tspan><tspan x="523">187</tspan><tspan x="768">188</tspan></text>
<text class="sc" y="75.5"><tspan x="276">0</tspan><tspan x="521">288</tspan><tspan x="766">360</tspan><tspan x="1011">0</tspan></text>
<text class="cu" y="88.5"><tspan x="276">121077</tspan><tspan x="521">123381</tspan><tspan x="766">126261</tspan><tspan x="1011">126261</tspan></text>
<text class="pc" y="101.5"><tspan x="276">25.00%</tspan><tspan x="521">18.73%</tspan><tspan x="766">6.23%</tspan><tspan x="1011">0.00%</tspan></text>
</g>

<g id="row48" transform="translate(0,7408.3)">
<use href="#grid4"/>
<use href="#go5"/>
<text class="mn" y="-7"><tspan x="33">189</tspan><tspan x="278">190</tspan><tspan x="523">191</tspan><tspan x="768">192</tspan></text>
<text class="sc" y="75.5"><tspan x="276">0</tspan><tspan x="521">0</tspan><tspan x="766">360</tspan><tspan x="1011">0</tspan></text>
<text class="cu" y="88.5"><tspan x="276">126261</tspan><tspan x="521">126261</tspan><tspan x="766">127701</tspan><tspan x="1011">127701</tspan></text>
<text class="pc" y="101.5"><tspan x="276">0.00%</tspan><tspan x="521">0.00%</tspan><tspan x="766">0.00%</tspan><tspan x="1011">0.00%</tspan></text>
</g>

<g id="row49" transform="translate(0,7561.3)">
<use href="#grid2"/>
<use href="#runA"/>
<text class="mn" y="-7"><tspan x="33">193</tspan><tspan x="278">194</tspan></text>
<text class="sc" y="75.5"><tspan x="276">0</tspan><tspan x="521">288</tspan></text>
<text class="cu" y="88.5"><tspan x="276">127701</tspan><tspan x="521">128853</tspan></text>
<text class="pc" y="101.5"><tspan x="276">0.00%</tspan><tspan x="521">0.00%</tspan></text>
</g>
</g>
</svg>
